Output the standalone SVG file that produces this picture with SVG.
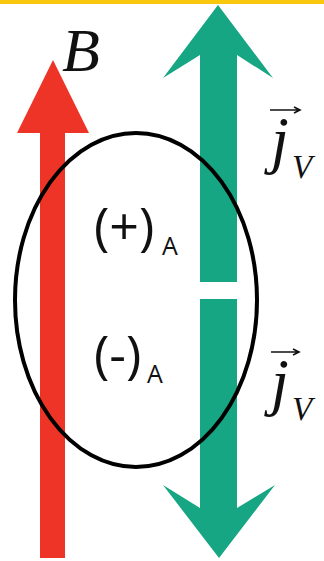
<svg xmlns="http://www.w3.org/2000/svg" width="324" height="561" viewBox="0 0 324 561">
<style>
.red{fill:#EE3426}
.green{fill:#16A683}
.serif{font-family:"Liberation Serif","Times New Roman",serif;font-style:italic;fill:#111}
.sans{font-family:"Open Sans","Noto Sans",sans-serif;fill:#111}
.vec{stroke:#111;stroke-width:1.6;fill:none}
</style>
<rect x="0" y="0" width="324" height="561" fill="#ffffff"/>
<rect x="0" y="0" width="324" height="4" fill="#F9C80E"/>
<g id="B-arrow">
<rect class="red" x="40" y="130" width="25" height="428"/>
<polygon class="red" points="53,60 89,133 17,133"/>
<text class="serif" x="62" y="71" font-size="62">B</text>
</g>
<g id="jv-up">
<polygon class="green" points="218,5 273,78 237,55 237,282 200,282 200,55 163,78"/>
</g>
<g id="jv-down">
<polygon class="green" points="200,299 237,299 237,508 275,485 219,558 163,485 200,508"/>
</g>
<g id="loop">
<ellipse cx="136" cy="300" rx="121" ry="167" fill="none" stroke="#000" stroke-width="4"/>
</g>
<g id="label-plus">
<text class="sans" x="94" y="245" font-size="52">(+)</text>
<text class="sans" x="162" y="255" font-size="25">A</text>
</g>
<g id="label-minus">
<text class="sans" x="94" y="373" font-size="52">(-)</text>
<text class="sans" x="147" y="383" font-size="25">A</text>
</g>
<g id="jv-label-top">
<path class="vec" d="M270,110 H299 M294,107 L300,110 L294,113"/>
<text class="serif" x="271" y="161" font-size="64">j</text>
<text class="serif" x="292" y="178" font-size="33">V</text>
</g>
<g id="jv-label-bottom">
<path class="vec" d="M271,352 H298 M293,349 L299,352 L293,355"/>
<text class="serif" x="271" y="403" font-size="64">j</text>
<text class="serif" x="292" y="420" font-size="33">V</text>
</g>
</svg>
